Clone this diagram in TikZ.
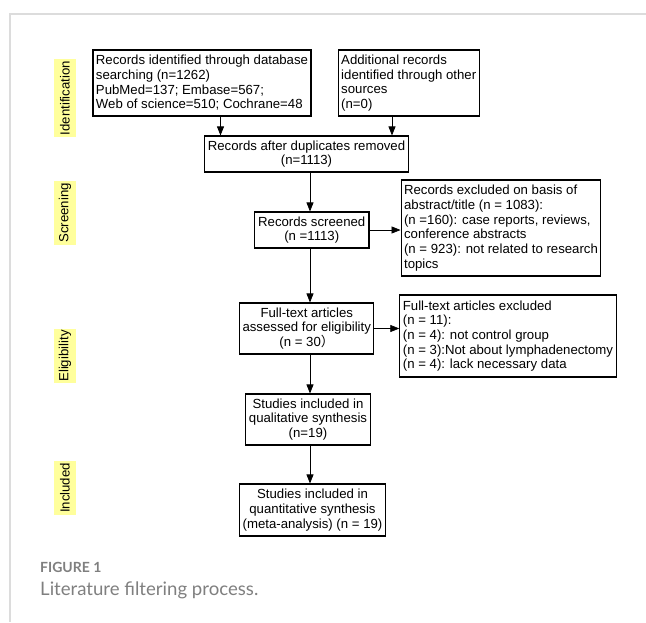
\documentclass[tikz,border=0pt]{standalone}
\usepackage{fontspec}
\setmainfont{Liberation Sans}
\newfontfamily\capfont{Lato}
\newfontfamily\cjk{Noto Sans CJK SC}
\usepackage{xcolor}
\usepackage{tikz}
\usetikzlibrary{arrows.meta,positioning,calc}
\definecolor{stagefill}{HTML}{FFFF9C}
\definecolor{framegray}{HTML}{DCDCDC}
\definecolor{captiongray}{HTML}{7F7F7F}

\begin{document}
\begin{tikzpicture}[
  x=1pt,y=-1pt,
  font=\fontsize{13.2}{14.7}\selectfont,
  stage/.style={fill=stagefill,rotate=90,inner sep=0pt,minimum height=21.6pt},
  box/.style={draw,line width=1.1pt,align=center,inner sep=3pt},
  leftbox/.style={box,align=left},
  caption/.style={anchor=base west,inner sep=0pt,text=captiongray},
  arrow/.style={-{Triangle[length=9pt,width=7pt]},line width=0.7pt}
]
\useasboundingbox (0,0) rectangle (646,622);
\draw[framegray,line width=1.5pt] (646,14) -- (10,14) -- (10,622);

\node[stage,minimum width=78pt] (ident) at (65,98) {Identification};
\node[stage,minimum width=64pt] (screen) at (65,213) {Screening};
\node[stage,minimum width=54pt] (elig) at (65,356) {Eligibility};
\node[stage,minimum width=54pt] (incl) at (65,488) {Included};

\node[leftbox,minimum width=216pt,minimum height=66pt] (dbrec) at (202,83) {Records identified through database\\searching (n=1262)\\PubMed=137; Embase=567;\\Web of science=510; Cochrane=48};
\node[leftbox,minimum width=139.5pt,minimum height=66pt] (other) at (408.75,83) {Additional records\\identified through other\\sources\\(n=0)};
\node[box,minimum width=203pt,minimum height=36pt] (dedup) at (306.5,154) {Records after duplicates removed\\(n=1113)};
\node[box,minimum width=114.5pt,minimum height=36pt] (screened) at (311.75,230) {Records screened\\(n =1113)};
\node[leftbox,minimum width=198pt,minimum height=96pt] (abstractout) at (501,228) {Records excluded on basis of\\abstract/title (n = 1083):\\(n =160): case reports, reviews,\\conference abstracts\\(n = 923): not related to research\\topics};
\node[box,minimum width=133.5pt,minimum height=51pt] (fulltext) at (306.75,328.5) {Full-text articles\\assessed for eligibility\\(n = 30{\cjk ）}};
\node[leftbox,minimum width=210pt,minimum height=82pt] (fulltextout) at (508,336) {Full-text articles excluded\\(n = 11):\\(n = 4): not control group\\(n = 3):Not about lymphadenectomy\\(n = 4): lack necessary data};
\node[box,minimum width=122pt,minimum height=51pt] (qual) at (308,419.5) {Studies included in\\qualitative synthesis\\(n=19)};
\node[box,minimum width=145pt,minimum height=52pt] (quant) at (312.5,510) {Studies included in\\quantitative synthesis\\(meta-analysis) (n = 19)};
\coordinate (col) at (310,0);

\draw[arrow] ([xshift=18.5pt]dbrec.south) -- ([xshift=18.5pt]dbrec.south |- dedup.north);
\draw[arrow] ([xshift=-16.75pt]other.south) -- ([xshift=-16.75pt]other.south |- dedup.north);
\draw[arrow] (dedup.south -| col) -- (screened.north -| col);
\draw[arrow] (screened.east) -- (screened.east -| abstractout.west);
\draw[arrow] (screened.south -| col) -- (fulltext.north -| col);
\draw[arrow] (fulltext.east) -- (fulltext.east -| fulltextout.west);
\draw[arrow] (fulltext.south -| col) -- (qual.north -| col);
\draw[arrow] (qual.south -| col) -- (quant.north -| col);

\node[caption,font=\capfont\bfseries\fontsize{14}{16}\selectfont] (figno) at (40,572) {FIGURE 1};
\node[caption,font=\capfont\fontsize{18.6}{21}\selectfont] (figcap) at (40,595) {Literature filtering process.};
\end{tikzpicture}
\end{document}
